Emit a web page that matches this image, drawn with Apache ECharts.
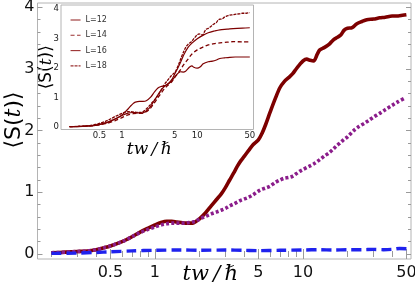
<!DOCTYPE html>
<html><head><meta charset="utf-8">
<script src="https://cdn.jsdelivr.net/npm/echarts@6/dist/echarts.min.js"></script>
<style>html,body{margin:0;padding:0;background:#fff}#c{width:415px;height:287px}</style>
</head><body><div id="c"></div>
<script>
// ---- main panel data ----
const redT = [0.2,0.25,0.3,0.35,0.4,0.45,0.5,0.6,0.7,0.8,0.9,1.0,1.1,1.2,1.3,1.4,1.5,1.6,1.7,1.8,1.9,2.0,2.2,2.4,2.6,2.8,3.0,3.2,3.4,3.6,3.8,4.0,4.3,4.6,5.0,5.3,5.6,6.0,6.5,7.0,7.5,8.0,8.5,9.0,9.5,10,10.6,11.2,11.8,12.5,13,14,15,16,17,18,19,20,21.5,23,25,27,30,33,36,40,44,47,50];
const redS = [0.02,0.03,0.04,0.05,0.07,0.10,0.13,0.20,0.28,0.36,0.42,0.47,0.51,0.53,0.53,0.52,0.51,0.50,0.50,0.50,0.53,0.57,0.67,0.78,0.88,0.97,1.08,1.20,1.31,1.42,1.51,1.58,1.68,1.77,1.85,1.96,2.10,2.30,2.52,2.70,2.80,2.86,2.92,3.00,3.07,3.13,3.16,3.14,3.13,3.24,3.31,3.35,3.40,3.47,3.51,3.55,3.63,3.66,3.67,3.73,3.77,3.80,3.81,3.83,3.84,3.86,3.86,3.87,3.88];
const purpleT = [0.2,0.25,0.3,0.35,0.4,0.45,0.5,0.6,0.7,0.8,0.9,1.0,1.1,1.2,1.3,1.4,1.5,1.6,1.7,1.8,1.9,2.0,2.2,2.4,2.6,2.8,3.0,3.2,3.4,3.6,3.8,4.0,4.3,4.6,5.0,5.3,5.6,6.0,6.5,7.0,7.5,8.0,8.5,9.0,9.5,10,11,12,13,14,15,16,17,18,19,20,22,24,26,28,30,33,36,40,44,48];
const purpleS = [0.02,0.03,0.04,0.05,0.07,0.10,0.13,0.20,0.28,0.35,0.40,0.44,0.47,0.49,0.50,0.50,0.50,0.50,0.51,0.52,0.53,0.57,0.61,0.65,0.68,0.71,0.74,0.78,0.81,0.84,0.87,0.89,0.92,0.96,1.02,1.05,1.07,1.10,1.16,1.20,1.23,1.24,1.26,1.30,1.34,1.37,1.42,1.47,1.53,1.59,1.64,1.70,1.76,1.81,1.86,1.90,2.00,2.07,2.12,2.17,2.22,2.28,2.34,2.41,2.47,2.52];
const blueT = [0.2,0.3,0.4,0.5,0.7,1.0,1.5,2.0,3.0,4.0,5.0,7.0,10,13,16,20,25,30,35,40,45,50];
const blueS = [0.01,0.015,0.025,0.035,0.05,0.06,0.065,0.06,0.065,0.06,0.055,0.06,0.065,0.07,0.065,0.07,0.07,0.075,0.07,0.075,0.09,0.085];

// ---- inset data ----
const L12T = [0.2,0.3,0.4,0.5,0.6,0.7,0.8,0.9,1.0,1.1,1.2,1.3,1.4,1.5,1.7,1.9,2.1,2.4,2.7,3.0,3.3,3.6,4.0,4.5,5.0,5.5,6.0,6.5,7.0,7.5,8.0,8.5,9.0,10,11,12,14,16,18,20,23,27,32,40,50];
const L12S = [0.02,0.03,0.05,0.09,0.14,0.20,0.27,0.34,0.42,0.52,0.62,0.72,0.80,0.85,0.88,0.88,0.90,1.02,1.20,1.33,1.38,1.40,1.45,1.55,1.70,1.82,1.88,1.87,1.90,1.98,2.05,2.08,2.03,2.00,2.05,2.15,2.22,2.24,2.28,2.33,2.35,2.37,2.38,2.38,2.38];
const L14T = [0.2,0.4,0.6,0.8,1.0,1.2,1.4,1.6,1.8,2.0,2.3,2.6,3.0,3.4,3.8,4.2,4.6,5.0,5.5,6.0,6.6,7.5,8.5,10,12,14,17,20,25,30,40,50];
const L14S = [0.02,0.05,0.12,0.22,0.33,0.42,0.46,0.47,0.47,0.50,0.60,0.78,1.00,1.20,1.35,1.45,1.55,1.68,1.82,1.95,2.12,2.30,2.48,2.62,2.72,2.79,2.83,2.86,2.88,2.90,2.89,2.89];
const L16T = [0.2,0.4,0.6,0.8,1.0,1.2,1.4,1.6,1.8,2.0,2.3,2.6,3.0,3.4,3.8,4.2,4.6,5.0,5.5,6.0,6.6,7.5,8.5,10,12,14,17,20,25,30,40,50];
const L16S = [0.02,0.06,0.15,0.28,0.40,0.48,0.50,0.49,0.48,0.52,0.65,0.85,1.10,1.30,1.42,1.50,1.62,1.80,2.00,2.20,2.45,2.70,2.85,3.00,3.12,3.20,3.26,3.30,3.32,3.34,3.36,3.37];
const L18T = redT;
const L18S = redS;
const legendNames = ['L=12','L=14','L=16','L=18'];

// ---- ticks ----
const xMajorTicks = [0.5,1,5,10,50];
const xMinorTicks = [0.2,0.3,0.4,0.6,0.7,0.8,0.9,2,3,4,6,7,8,9,20,30,40];
const yMajorTicks = [0,1,2,3,4];
const yMinorTicks = [0.2,0.4,0.6,0.8,1.2,1.4,1.6,1.8,2.2,2.4,2.6,2.8,3.2,3.4,3.6,3.8];

const TICK = '#9a9a9a';
const FRAME = '#b4b4b4';
const pairs = (t, s) => t.map((v, i) => [v, s[i]]);
const fmt = v => String(+(+v).toPrecision(3));

function axis(grid, type, min, max, position, ticks, len, label, extra) {
  const a = {
    type: type, gridIndex: grid, min: min, max: max, position: position,
    axisLine: {show: false},
    axisTick: {show: true, inside: true, length: len, customValues: ticks, lineStyle: {color: TICK, width: 1}},
    axisLabel: label ? Object.assign({show: true, customValues: ticks, formatter: fmt, color: '#111', fontFamily: 'DejaVu Sans'}, label) : {show: false},
    splitLine: {show: false},
    nameMoveOverlap: false
  };
  if (type === 'log') a.logBase = 10;
  return Object.assign(a, extra || {});
}

// main ranges
const MX = [0.161, 53.7], MY = [-0.081, 4.07];
// inset ranges
const IX = [0.154, 56], IY = [-0.075, 4.14];

const xAxes = [
  axis(0, 'log', MX[0], MX[1], 'bottom', xMajorTicks, 5, {fontSize: 16, margin: 6}, {
    name: 'tw\u2009/\u2009\u210F', nameLocation: 'middle', nameGap: 5,
    nameTextStyle: {fontFamily: 'DejaVu Serif', fontStyle: 'italic', fontSize: 21, color: '#000', padding: [0, 28, 0, 0], verticalAlign: 'top'}
  }),
  axis(0, 'log', MX[0], MX[1], 'bottom', xMinorTicks, 3, null),
  axis(0, 'log', MX[0], MX[1], 'top', xMajorTicks, 5, null),
  axis(0, 'log', MX[0], MX[1], 'top', xMinorTicks, 3, null),
  axis(1, 'log', IX[0], IX[1], 'bottom', xMajorTicks, 3, {fontSize: 8.5, margin: 2, color: '#222'}, {
    name: 'tw\u2009/\u2009\u210F', nameLocation: 'middle', nameGap: 12,
    nameTextStyle: {fontFamily: 'DejaVu Serif', fontStyle: 'italic', fontSize: 17, color: '#000', padding: [0, 16, 0, 0], verticalAlign: 'top'}
  }),
  axis(1, 'log', IX[0], IX[1], 'bottom', xMinorTicks, 1.5, null),
  axis(1, 'log', IX[0], IX[1], 'top', xMajorTicks, 3, null),
  axis(1, 'log', IX[0], IX[1], 'top', xMinorTicks, 1.5, null)
];
const yAxes = [
  axis(0, 'value', MY[0], MY[1], 'left', yMajorTicks, 5, {fontSize: 16, margin: 3}, {
    name: '\u27E8S({i|t})\u27E9', nameLocation: 'middle', nameGap: 12,
    nameTextStyle: {fontFamily: 'DejaVu Sans', fontSize: 22, color: '#000', padding: [0, 0, 0, 22],
      rich: {i: {fontFamily: 'DejaVu Serif', fontStyle: 'italic', fontSize: 22, color: '#000'}}}
  }),
  axis(0, 'value', MY[0], MY[1], 'left', yMinorTicks, 3, null),
  axis(0, 'value', MY[0], MY[1], 'right', yMajorTicks, 5, null),
  axis(0, 'value', MY[0], MY[1], 'right', yMinorTicks, 3, null),
  axis(1, 'value', IY[0], IY[1], 'left', yMajorTicks, 3, {fontSize: 8.5, margin: 2, color: '#222'}, {
    name: '\u27E8S({i|t})\u27E9', nameLocation: 'middle', nameGap: 6,
    nameTextStyle: {fontFamily: 'DejaVu Sans', fontSize: 17, color: '#000',
      rich: {i: {fontFamily: 'DejaVu Serif', fontStyle: 'italic', fontSize: 17, color: '#000'}}}
  }),
  axis(1, 'value', IY[0], IY[1], 'left', yMinorTicks, 1.5, null),
  axis(1, 'value', IY[0], IY[1], 'right', yMajorTicks, 3, null),
  axis(1, 'value', IY[0], IY[1], 'right', yMinorTicks, 1.5, null)
];

function line(name, data, xi, yi, color, width, type, z) {
  return {
    name: name, type: 'line', data: data, xAxisIndex: xi, yAxisIndex: yi,
    showSymbol: false, symbol: 'none', smooth: 0.3, animation: false, z: z || 2,
    lineStyle: {color: color, width: width, type: type, cap: 'butt', join: 'round'},
    itemStyle: {color: color}
  };
}

const RED = '#7d0000';
const option = {
  backgroundColor: '#fff',
  animation: false,
  grid: [
    {left: 37.5, right: 4, top: 3, bottom: 28, show: true, borderColor: FRAME, borderWidth: 1, backgroundColor: 'transparent', containLabel: false, outerBoundsMode: 'none'},
    {left: 61, right: 161.5, top: 5, bottom: 157.5, show: true, borderColor: FRAME, borderWidth: 1, backgroundColor: '#fff', z: 5, containLabel: false, outerBoundsMode: 'none'}
  ],
  xAxis: xAxes,
  yAxis: yAxes,
  legend: {
    data: legendNames, orient: 'vertical', left: 65, top: 11, z: 30,
    itemWidth: 10, itemHeight: 8, itemGap: 7.3, itemStyle: {opacity: 0},
    lineStyle: {width: 1.1, color: '#9a3030'},
    textStyle: {fontFamily: 'DejaVu Sans', fontSize: 8, color: '#333'},
    selectedMode: false
  },
  series: [
    line('main', pairs(redT, redS), 0, 0, RED, 3.6, 'solid', 3),
    line('purple', pairs(purpleT, purpleS), 0, 0, '#8b1d8b', 3.6, [3, 2.2], 4),
    line('blue', pairs(blueT, blueS), 0, 0, '#1f22ee', 3.4, [10, 5], 5),
    line('L=12', pairs(L12T, L12S), 4, 4, RED, 1.2, 'solid', 10),
    line('L=14', pairs(L14T, L14S), 4, 4, RED, 1.3, [4, 2.5], 10),
    line('L=16', pairs(L16T, L16S), 4, 4, RED, 1.2, 'solid', 10),
    line('L=18', pairs(L18T, L18S), 4, 4, RED, 1.3, [3, 1], 10)
  ]
};
echarts.init(document.getElementById('c')).setOption(option);
</script>
</body></html>
